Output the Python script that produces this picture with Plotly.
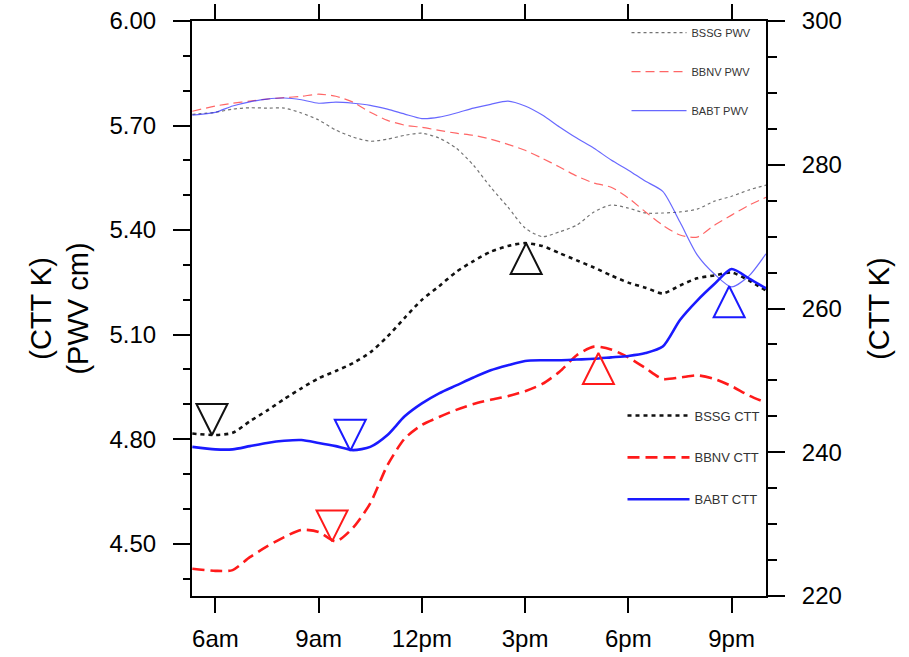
import plotly.graph_objects as go

# ---------------- data ----------------
hours = [5.33, 6.0, 6.5, 7.0, 7.5, 8.0, 8.5, 9.0, 9.5, 10.0, 10.5, 11.0, 11.5,
         12.0, 12.5, 13.0, 13.5, 14.0, 14.5, 15.0, 15.5, 16.0, 16.5, 17.0,
         17.5, 18.0, 18.5, 19.0, 19.5, 20.0, 20.5, 21.0, 21.5, 22.0]

# Cloud top temperature (K) - right axis
bssg_ctt = [242.6, 242.4, 242.7, 244.3, 245.8, 247.4, 248.9, 250.3, 251.3, 252.4,
            253.9, 256.1, 258.7, 261.2, 263.1, 265.1, 266.6, 267.9, 268.7, 269.1,
            268.7, 267.7, 266.7, 265.7, 264.6, 263.6, 262.9, 262.1, 263.2, 264.2,
            264.6, 265.0, 263.9, 262.5]
bbnv_ctt = [223.8, 223.5, 223.6, 225.4, 226.9, 228.2, 229.2, 228.9, 227.6, 229.5,
            232.9, 238.2, 241.9, 243.8, 244.9, 245.9, 246.7, 247.3, 247.8, 248.5,
            249.5, 251.2, 253.5, 254.7, 254.3, 253.2, 251.7, 250.2, 250.4, 250.7,
            250.2, 249.2, 247.9, 246.9]
babt_ctt = [240.75, 240.4, 240.4, 240.85, 241.3, 241.6, 241.7, 241.3, 240.85, 240.3,
            240.75, 242.4, 245.0, 246.8, 248.2, 249.3, 250.4, 251.4, 252.1, 252.7,
            252.8, 252.8, 252.9, 253.0, 253.2, 253.4, 253.8, 254.7, 258.4, 261.1,
            263.4, 265.5, 264.2, 262.8]

# Precipitable water vapour (cm) - left axis
bssg_pwv = [5.732, 5.738, 5.747, 5.751, 5.750, 5.750, 5.736, 5.716, 5.687, 5.667,
            5.655, 5.661, 5.672, 5.678, 5.664, 5.635, 5.586, 5.523, 5.466, 5.406,
            5.381, 5.395, 5.414, 5.452, 5.472, 5.463, 5.449, 5.449, 5.452, 5.460,
            5.483, 5.497, 5.515, 5.529]
bbnv_pwv = [5.741, 5.756, 5.764, 5.770, 5.776, 5.780, 5.784, 5.790, 5.784, 5.767,
            5.738, 5.715, 5.701, 5.695, 5.686, 5.678, 5.672, 5.661, 5.646, 5.629,
            5.606, 5.581, 5.555, 5.535, 5.523, 5.492, 5.452, 5.414, 5.386, 5.380,
            5.414, 5.443, 5.471, 5.494]
babt_pwv = [5.730, 5.738, 5.756, 5.768, 5.776, 5.779, 5.774, 5.764, 5.767, 5.764,
            5.758, 5.747, 5.733, 5.720, 5.724, 5.736, 5.750, 5.761, 5.770, 5.756,
            5.730, 5.696, 5.664, 5.635, 5.601, 5.572, 5.540, 5.511, 5.423, 5.329,
            5.274, 5.237, 5.268, 5.332]

# CTT minimum / maximum markers (BSSG, BBNV, BABT)
min_hours = [5.90, 9.39, 9.92]
min_ctt = [242.4, 227.6, 240.2]
max_hours = [15.03, 17.13, 20.93]
max_ctt = [269.1, 253.8, 263.1]

tick_hours = [6, 9, 12, 15, 18, 21]
tick_labels = ["6am", "9am", "12pm", "3pm", "6pm", "9pm"]
pwv_ticks = [4.5, 4.8, 5.1, 5.4, 5.7, 6.0]
ctt_ticks = [220, 240, 260, 280, 300]

# ---------------- figure ----------------
FONT = "Liberation Sans, Arial, Helvetica, sans-serif"
fig = go.Figure()

pwv_styles = [
    ("BSSG PWV", bssg_pwv, "rgba(0,0,0,0.55)", "3px,3px"),
    ("BBNV PWV", bbnv_pwv, "rgba(255,0,0,0.6)", "9px,5px"),
    ("BABT PWV", babt_pwv, "rgba(40,40,255,0.7)", "solid"),
]
for i, (name, vals, col, dash) in enumerate(pwv_styles):
    fig.add_trace(go.Scatter(
        x=hours, y=vals, name=name, mode="lines", yaxis="y",
        line=dict(color=col, width=1.2, dash=dash, shape="spline", smoothing=0.7),
        legend="legend", legendgroup="p%d" % i,
    ))

ctt_styles = [
    ("BSSG CTT", bssg_ctt, "#111111", "4px,4px"),
    ("BBNV CTT", bbnv_ctt, "#ff1a1a", "12px,6px"),
    ("BABT CTT", babt_ctt, "#1a1aff", "solid"),
]
for i, (name, vals, col, dash) in enumerate(ctt_styles):
    fig.add_trace(go.Scatter(
        x=hours, y=vals, name=name, mode="lines", yaxis="y2",
        line=dict(color=col, width=2.6, dash=dash, shape="spline", smoothing=0.7),
        legend="legend2", legendgroup="c%d" % i,
    ))

mk_cols = ["#111111", "#ff1a1a", "#1a1aff"]
fig.add_trace(go.Scatter(
    x=min_hours, y=min_ctt, mode="markers", yaxis="y2", showlegend=False,
    marker=dict(symbol="arrow-down-open", size=31, color=mk_cols,
                line=dict(color=mk_cols, width=2)),
))
fig.add_trace(go.Scatter(
    x=max_hours, y=max_ctt, mode="markers", yaxis="y2", showlegend=False,
    marker=dict(symbol="arrow-up-open", size=31, color=mk_cols,
                line=dict(color=mk_cols, width=2)),
))

fig.update_layout(
    width=909, height=657,
    margin=dict(l=192, r=143, t=21, b=61, autoexpand=False),
    paper_bgcolor="white", plot_bgcolor="white",
    font=dict(family=FONT, size=24, color="black"),
    xaxis=dict(
        range=[5.32, 22.0], tickvals=tick_hours, ticktext=tick_labels, automargin=False,
        showgrid=False, zeroline=False, showline=True, linewidth=2, linecolor="black",
        ticks="outside", ticklen=15, tickwidth=2, tickcolor="black", mirror="ticks",
        ticklabelstandoff=5, tickfont=dict(size=24),
    ),
    yaxis=dict(
        range=[4.35, 6.0], tickvals=pwv_ticks, tickformat=".2f", automargin=False,
        showgrid=False, zeroline=False, showline=True, linewidth=2, linecolor="black",
        ticks="outside", ticklen=17, tickwidth=2, tickcolor="black",
        minor=dict(dtick=0.1, tick0=0, ticks="outside", ticklen=7, tickwidth=2, tickcolor="black"),
        ticklabelstandoff=12, tickfont=dict(size=24),
        title=dict(text="(CTT K)<br>(PWV cm)", font=dict(size=29), standoff=12),
    ),
    yaxis2=dict(
        range=[220, 300], tickvals=ctt_ticks, overlaying="y", side="right", automargin=False,
        showgrid=False, zeroline=False, showline=True, linewidth=2, linecolor="black",
        ticks="outside", ticklen=17, tickwidth=2, tickcolor="black",
        minor=dict(dtick=5, ticks="outside", ticklen=9, tickwidth=2, tickcolor="black"),
        ticklabelstandoff=12, tickfont=dict(size=24),
        title=dict(text="(CTT K)", font=dict(size=29), standoff=28),
    ),
    legend=dict(
        x=0.757, y=1.005, xanchor="left", yanchor="top", bgcolor="rgba(0,0,0,0)",
        font=dict(size=11, color="#333333"), itemwidth=55, tracegroupgap=20,
    ),
    legend2=dict(
        x=0.75, y=0.34, xanchor="left", yanchor="top", bgcolor="rgba(0,0,0,0)",
        font=dict(size=13, color="#333333"), itemwidth=62, tracegroupgap=22,
    ),
)

fig.write_html("out.html")
